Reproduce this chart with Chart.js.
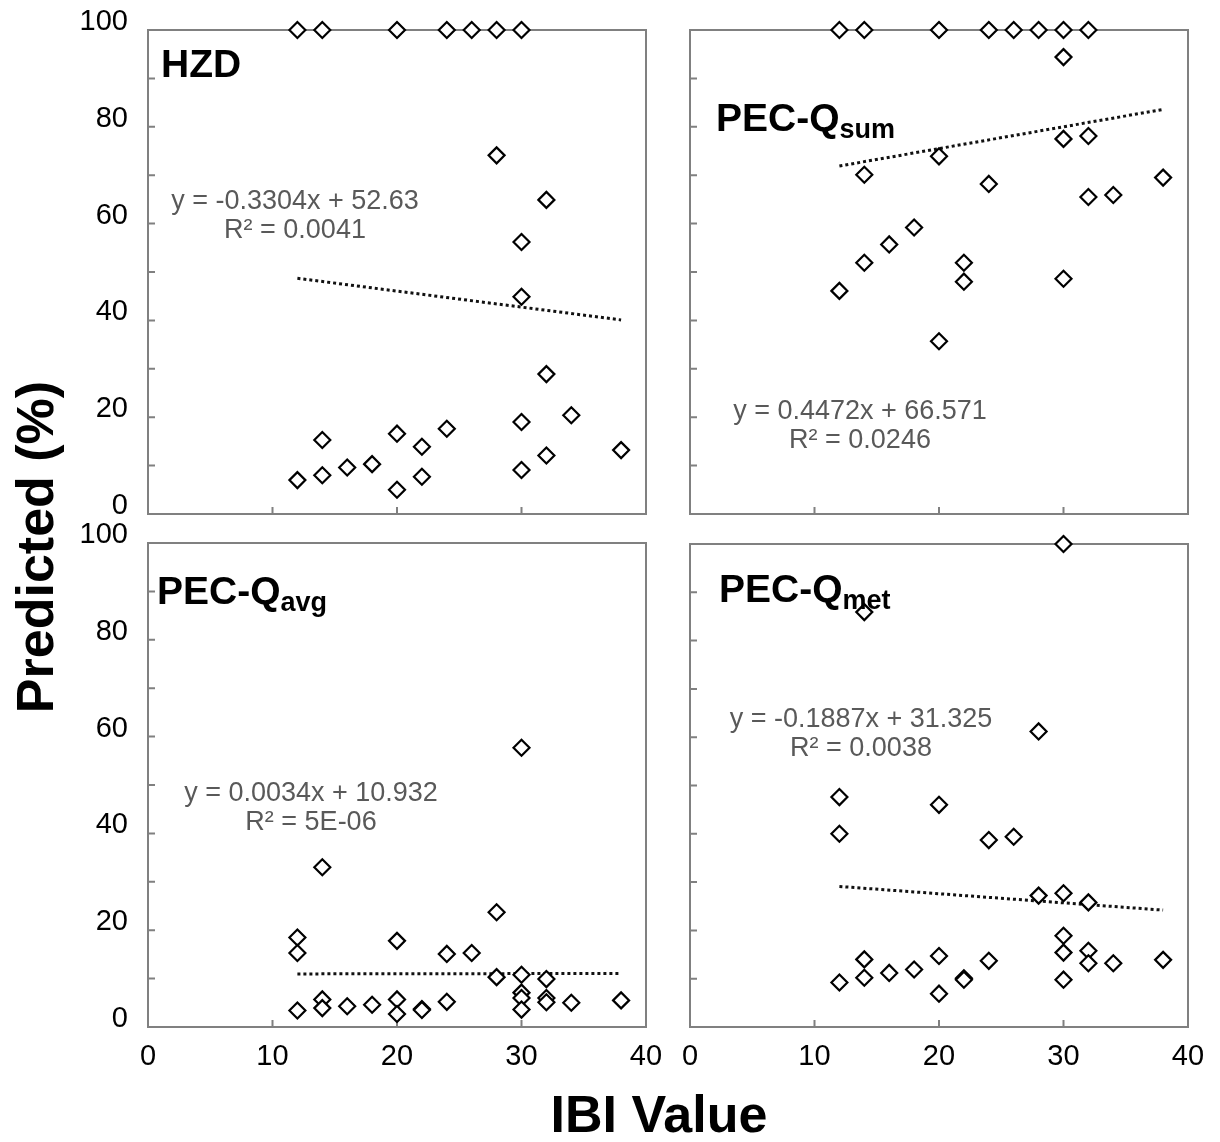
<!DOCTYPE html>
<html>
<head>
<meta charset="utf-8">
<script src="https://cdn.jsdelivr.net/npm/chart.js@4.4.1/dist/chart.umd.min.js"></script>
<style>
body{margin:0;background:#fff;}
#wrap{position:relative;width:1220px;height:1142px;overflow:hidden;font-family:"Liberation Sans",Arial,sans-serif;}
canvas{position:absolute;left:0;top:0;}
.ttl{position:absolute;font-weight:bold;font-size:52px;line-height:52px;color:#000;white-space:nowrap;}
#xTitle{left:659px;top:1088px;transform:translateX(-50%);}
#yTitle{left:-165px;top:521px;width:400px;text-align:center;transform:rotate(-90deg);}
</style>
</head>
<body>
<div id="wrap">
<canvas id="c1" width="1220" height="1142"></canvas>
<canvas id="c2" width="1220" height="1142"></canvas>
<canvas id="c3" width="1220" height="1142"></canvas>
<canvas id="c4" width="1220" height="1142"></canvas>
<div class="ttl" id="xTitle">IBI Value</div>
<div class="ttl" id="yTitle">Predicted (%)</div>
</div>
<script>
// values
let xTicks=[0,10,20,30,40];
let yTicks=[0,20,40,60,80,100];
let xMinor=[10,20,30];
let yMinor=[10,20,30,40,50,60,70,80,90];

let hzdX=[12,14,20,24,26,28,30,28,32,30,30,32,34,30,24,20,14,22,38,32,18,16,30,14,22,12,20];
let hzdY=[100,100,100,100,100,100,100,74.1,64.9,56.2,44.9,28.9,20.4,19.0,17.6,16.6,15.3,13.9,13.2,12.1,10.3,9.6,9.1,8.0,7.7,7.0,5.0];

let sumX=[12,14,20,24,26,28,30,32,30,30,32,20,14,38,24,32,34,18,16,14,22,22,30,12,20];
let sumY=[100,100,100,100,100,100,100,100,94.4,77.5,78.1,73.9,70.1,69.5,68.2,65.5,65.9,59.2,55.7,51.9,51.9,48.0,48.6,46.1,35.7];

let avgX=[30,14,28,12,20,12,24,26,28,30,32,30,30,32,32,14,14,16,18,20,20,22,22,24,30,34,38,12];
let avgY=[57.7,33.0,23.7,18.5,17.8,15.3,15.1,15.3,10.3,10.8,9.9,7.1,6.0,6.0,5.1,5.7,3.9,4.3,4.6,5.7,2.7,3.7,3.5,5.2,3.6,5.0,5.5,3.4];

let metX=[30,14,28,12,20,12,24,26,28,30,32,30,30,32,32,34,38,24,20,14,14,16,18,22,22,12,30,20];
let metY=[100,85.9,61.2,47.6,46.0,40.0,38.7,39.4,27.2,27.7,25.8,18.9,15.4,15.8,13.2,13.2,13.9,13.7,14.7,14.0,10.2,11.2,11.9,10.1,9.8,9.2,9.8,6.9];

// trend line ends (x = 12 and x = 38)
let trendX=[12,38];
let hzdTrend=[48.7,40.1];
let sumTrend=[71.9,83.6];
let avgTrend=[10.97,11.06];
let metTrend=[29.1,24.2];

let eqHzd=["y = -0.3304x + 52.63","R² = 0.0041"];
let eqSum=["y = 0.4472x + 66.571","R² = 0.0246"];
let eqAvg=["y = 0.0034x + 10.932","R² = 5E-06"];
let eqMet=["y = -0.1887x + 31.325","R² = 0.0038"];

const FONT='"Liberation Sans", Arial, sans-serif';

function pts(xs,ys){
    let out=[];
    for(let i=0;i<xs.length;i++){
        out.push({x:xs[i],y:ys[i]});
    }
    return out;
}

const panelDeco={
    id:'panelDeco',
    beforeDatasetsDraw(chart,args,opts){
        const ctx=chart.ctx, a=chart.chartArea;
        const sx=chart.scales.x, sy=chart.scales.y;
        ctx.save();
        ctx.strokeStyle='#808080';
        ctx.lineWidth=2;
        ctx.strokeRect(a.left,a.top,a.right-a.left,a.bottom-a.top);
        ctx.beginPath();
        yMinor.forEach(v=>{
            const p=sy.getPixelForValue(v);
            ctx.moveTo(a.left,p); ctx.lineTo(a.left+7,p);
        });
        xMinor.forEach(v=>{
            const p=sx.getPixelForValue(v);
            ctx.moveTo(p,a.bottom); ctx.lineTo(p,a.bottom-7);
        });
        ctx.stroke();
        ctx.restore();
    },
    afterDraw(chart,args,opts){
        const ctx=chart.ctx;
        ctx.save();
        ctx.textBaseline='alphabetic';
        ctx.textAlign='left';
        ctx.fillStyle='#000';
        ctx.font='bold 39px '+FONT;
        ctx.fillText(opts.title,opts.tx,opts.ty);
        if(opts.sub){
            const w=ctx.measureText(opts.title).width;
            ctx.font='bold 27px '+FONT;
            ctx.fillText(opts.sub,opts.tx+w,opts.ty+7);
        }
        ctx.fillStyle='#595959';
        ctx.font='27px '+FONT;
        ctx.textAlign='center';
        ctx.fillText(opts.eq[0],opts.ex,opts.ey);
        ctx.fillText(opts.eq[1],opts.ex,opts.ey+29);
        ctx.restore();
    }
};

function makePanel(id,xs,ys,trend,deco,pad,showX,showY){
    const ctx=document.getElementById(id).getContext("2d");
    return new Chart(ctx,{
        type:"scatter",
        data:{
            datasets:[{
                data:pts(xs,ys),
                pointStyle:"rectRot",
                pointRadius:8,
                borderWidth:2.2,
                borderColor:"#000",
                backgroundColor:"#fff",
                clip:false
            },{
                type:"line",
                data:pts(trendX,trend),
                borderColor:"#111",
                borderWidth:3,
                borderDash:[3,3],
                pointRadius:0,
                fill:false,
                order:1
            }]
        },
        options:{
            responsive:false,
            animation:false,
            devicePixelRatio:1,
            events:[],
            layout:{padding:pad},
            plugins:{legend:{display:false},tooltip:{enabled:false},panelDeco:deco},
            scales:{
                x:{
                    type:"linear",min:0,max:40,clip:false,
                    afterBuildTicks:s=>{s.ticks=xTicks.map(v=>({value:v}));},
                    grid:{display:false},
                    border:{display:false},
                    ticks:{display:showX,color:"#000",padding:5,font:{size:29,family:FONT}},
                    afterFit:s=>{s.height=60;s.paddingLeft=0;s.paddingRight=0;}
                },
                y:{
                    min:0,max:100,clip:false,
                    afterBuildTicks:s=>{s.ticks=yTicks.map(v=>({value:v}));},
                    grid:{display:false},
                    border:{display:false},
                    ticks:{display:showY,color:"#000",padding:12,labelOffset:-8,font:{size:29,family:FONT}},
                    afterFit:s=>{s.width=100;s.paddingTop=0;s.paddingBottom=0;}
                }
            }
        },
        plugins:[panelDeco]
    });
}

makePanel("c1",hzdX,hzdY,hzdTrend,
    {title:"HZD",sub:"",tx:161,ty:77,eq:eqHzd,ex:295,ey:209},
    {left:48,top:30,right:574,bottom:568},false,true);
makePanel("c2",sumX,sumY,sumTrend,
    {title:"PEC-Q",sub:"sum",tx:716,ty:131,eq:eqSum,ex:860,ey:419},
    {left:590,top:30,right:32,bottom:568},false,false);
makePanel("c3",avgX,avgY,avgTrend,
    {title:"PEC-Q",sub:"avg",tx:157,ty:604,eq:eqAvg,ex:311,ey:801},
    {left:48,top:543,right:574,bottom:55},true,true);
makePanel("c4",metX,metY,metTrend,
    {title:"PEC-Q",sub:"met",tx:719,ty:602,eq:eqMet,ex:861,ey:727},
    {left:590,top:544,right:32,bottom:55},true,false);
</script>
</body>
</html>
